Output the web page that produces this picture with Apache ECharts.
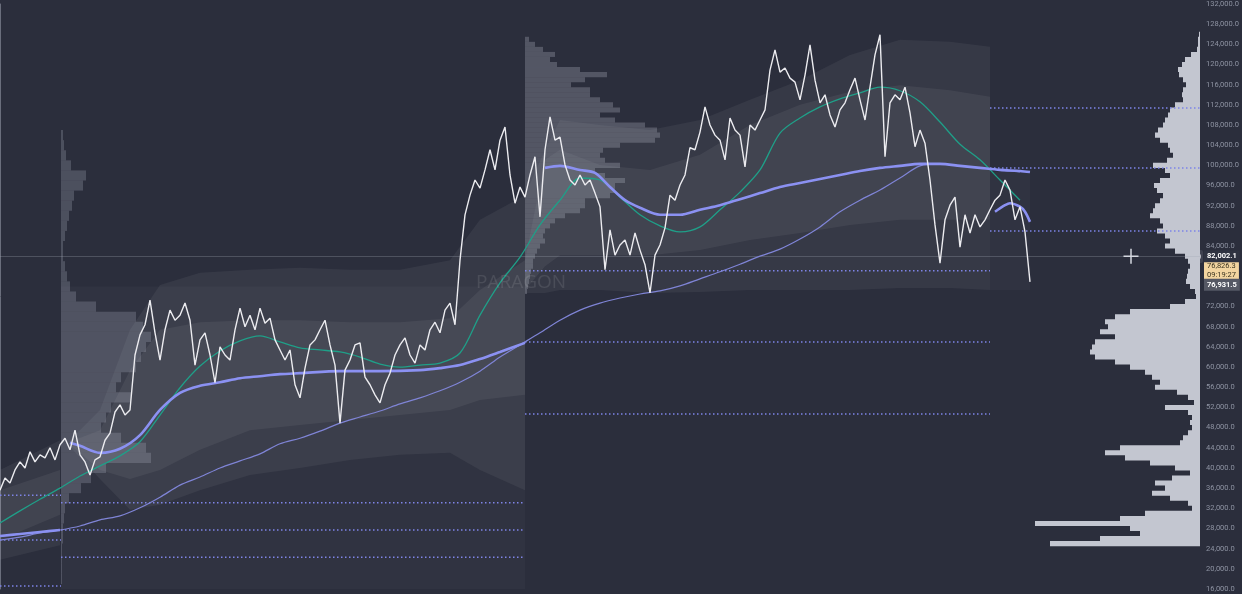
<!DOCTYPE html>
<html>
<head>
<meta charset="utf-8">
<script src="https://cdn.jsdelivr.net/npm/echarts@6/dist/echarts.min.js"></script>
<style>
html,body{margin:0;padding:0;background:#2b2e3c;}
#chart{width:1242px;height:594px;}
</style>
</head>
<body>
<div id="chart"></div>
<script>
// ---------- DATA ----------
// y axis ticks
const yMin = 16000, yMax = 132000, yStep = 4000;
// x axis: bar index (0 .. 240)
const xBars = 240;

// price path, one value per bar starting at bar 0
const price = [
 35600,38000,37000,39600,41200,40000,43200,41200,42600,42000,
 44000,41600,44600,45900,43600,47500,42600,41200,38600,41600,
 42200,45500,46900,51100,52500,50500,51500,62400,66400,68400,
 73300,66800,61400,67400,71300,69300,70300,72700,69300,60400,
 65400,66800,62400,56900,64000,62400,61400,67400,71700,68000,
 70300,67400,71700,68700,69700,65400,63400,61400,63400,56500,
 53900,59800,64400,65400,67400,69300,64400,60400,48900,59400,
 61400,64400,64800,58000,56500,54500,52900,56500,58800,62400,
 64400,65800,62400,60800,64400,63400,67400,68900,66800,71300,
 72700,68400,81200,90200,94100,97100,95500,99100,103100,99100,
 105000,107600,98100,92500,95700,93700,98100,101700,89800,103100,
 109600,105000,105600,100100,97100,96100,98100,96100,97100,94500,
 91800,79300,87200,82200,84200,85200,82200,86600,83200,80300,
 74700,82200,84200,87600,94100,93100,96100,98100,103500,103100,
 106600,111600,108000,106000,105000,101100,109400,107000,106000,99700,
 108000,107000,109000,111000,118900,122900,118500,119300,117300,116500,
 113000,117900,123900,116900,112400,114000,110000,107600,111000,112400,
 115000,117300,113000,109000,115500,121900,125900,101700,112400,114000,
 113000,115500,110400,103700,107000,104400,97100,88200,80600,89200,
 92100,93700,83800,90200,86600,90200,87800,89200,91200,93100,
 94100,97100,95100,89200,91800,86800,76900
];

// moving averages, one value every maStep bars from bar 0
const maStep = 4;
const maFast = [
 29100,31500,33800,36000,38400,40400,42400,45200,50500,55900,
 60200,63200,65200,66200,65000,63800,63400,63000,62000,60600,
 60000,60400,60800,62800,70300,76700,81800,88200,93100,97500,
 97100,93700,90200,88000,86800,87800,91200,94700,99100,106400,
 109400,111600,113200,114400,115500,114800,112600,108600,104200,101100,
 97100,93100
];
const maSlow = [
 25700,26300,27100,27700,28500,29700,30500,32100,34200,36600,
 38200,40000,41400,42800,44800,45900,47300,48900,50100,51300,
 52700,53900,55300,57000,59200,62000,64400,66800,69300,71300,
 72700,73700,74500,75100,76100,77500,78900,80400,82000,83400,
 85400,87800,90800,93100,95100,97500,99900,100300,99900,99500,
 99100,98700
];

// anchored VWAP segments [bar, price]
const vwapA = [[0,26500],[4,26900],[8,27300],[12,27700]];
const vwapB = [[14,45000],[16,44400],[20,43000],[24,43800],[28,46500],[32,51500],[36,54900],[40,56300],[44,57000],[48,57800],[52,58200],[56,58600],[60,58800],[68,59200],[76,59200],[84,59400],[88,59800],[92,60400],[96,61600],[100,63000],[105,64800]];
const vwapC = [[109,99500],[112,99900],[116,99100],[119,98500],[122,95700],[125,93100],[128,91600],[132,90200],[136,90200],[140,91200],[144,92100],[148,93300],[152,94500],[156,95700],[160,96500],[164,97300],[168,98100],[172,98900],[176,99500],[180,99900],[184,100300],[188,100300],[192,99900],[196,99500],[200,99100],[204,98900],[206,98700]];
const vwapD = [[199,90800],[201,92100],[202,92500],[204,91800],[205,90800],[206,88800]];

// deviation bands of the anchored VWAPs
const bandAx  = [0, 12];
const bandAu2 = [39600, 45500];
const bandAu1 = [35600, 39600];
const bandAl1 = [25700, 30700];
const bandAl2 = [21800, 24700];

const bandBx  = [14, 20, 26, 32, 40, 50, 60, 70, 80, 90, 96, 105];
const bandBu2 = [45500,51500,67400,76300,78700,79300,79700,79300,79300,81200,89200,94100];
const bandBu1 = [45200,47500,59400,67400,68900,69300,69300,68900,68900,69700,75300,81200];
const bandBl1 = [44600,39600,37800,39600,43600,47500,48500,49500,50500,51500,53500,54500];
const bandBl2 = [44200,37800,31700,32700,35600,38600,40000,41600,42600,43000,39600,35600];

const bandCx  = [105, 109, 112, 120, 130, 140, 150, 160, 170, 180, 190, 198];
const bandCu2 = [94100,103100,109000,108000,107000,109000,113000,116900,121900,124900,124500,123500];
const bandCu1 = [81200,101100,103100,100100,99100,102100,108000,112000,114600,115900,114900,113600];
const bandCl1 = [75300,80000,82200,82200,82200,83200,85200,86600,88200,89200,89200,89200];
const bandCl2 = [74700,74700,75300,75300,74700,74900,75300,75300,75300,75700,75700,75300];

// session boxes [fromBar, toBar, topPrice, bottomPrice]
const boxes = [[12.2, 105, 76000, 16000], [198, 206, 98700, 75300]];

// volume profiles: anchor bar, top bucket, bucket size, volumes
const profLeftAnchor = 12.2, profLeftTop = 106000, profLeftStep = 2000;
const profLeftVol = [2,3,5,10,25,22,13,11,8,6, 4,2,2,4,6,9,15,35,75,82,
 90,85,80,75,60,55,70,50,45,40, 60,85,90,45,30,20,8,4,3,2, 2,1,1,1,1];
const profMidAnchor = 105, profMidTop = 126000, profMidStep = 1000;
const profMidVol = [0,4,10,18,30,25,32,55,82,60, 46,65,65,75,88,95,75,90,120,132,
 135,130,95,78,75,80,95,70,80,100, 90,90,85,60,60,55,40,30,25,20,
 18,20,15,12,10,8,8,6,5,4, 3,2];
const profRightAnchor = 240, profRightTop = 126000, profRightStep = 1000;
const profRightVol = [1,2,2,3,9,15,18,22,21,17, 14,17,18,17,25,30,32,35,37,42,
 45,40,32,30,27,33,47,35,30,40, 46,43,37,40,45,47,50,40,37,43,
 35,30,35,25,15,12,10,12,13,14, 10,5,4,15,30,70,85,95,92,100,
 85,105,108,110,105,85,70,55,48,40, 45,23,12,6,35,12,8,10,8,12,
 17,20,80,95,75,50,25,10,28,45, 35,48,30,12,8,55,80,165,70,60,
 100,150];

// value-area / POC level lines
const levelFrom  = [0,0,0, 12.2,12.2,12.2, 105,105,105, 198,198,198];
const levelTo    = [12.2,12.2,12.2, 105,105,105, 198,198,198, 240,240,240];
const levelPrice = [34600,25700,16600, 33100,27700,22300, 79100,65000,50700, 111400,99500,87000];

// price tags on the axis
const crossPrice = 82002.1;
const lastPrice = 76931.5;
const timerPrice = 79100;
const timerText = ['76,826.3', '09:19:27'];
const cursorAt = [226.2, 82002.1];

// ---------- BUILD ----------
const VOL_TO_BARS = 0.2;
const fmt = v => v.toLocaleString('en-US', {minimumFractionDigits: 1, maximumFractionDigits: 1});

function bandSeries(xs, up, lo, fill, z) {
  return {
    type: 'custom', coordinateSystem: 'cartesian2d', silent: true, z: z,
    data: [[xs[0], up[0]]],
    renderItem: function (params, api) {
      const pts = [];
      for (let i = 0; i < xs.length; i++) pts.push(api.coord([xs[i], up[i]]));
      for (let i = xs.length - 1; i >= 0; i--) pts.push(api.coord([xs[i], lo[i]]));
      return {type: 'polygon', shape: {points: pts}, style: {fill: fill}};
    }
  };
}
function profileData(anchor, top, step, vols, dir) {
  return vols.map((v, i) => [anchor, top - i * step - step / 2, top - i * step + step / 2, v * VOL_TO_BARS, dir]);
}
function rectSeries(data, fill, z) {
  return {
    type: 'custom', coordinateSystem: 'cartesian2d', silent: true, z: z,
    encode: {x: [0], y: [1, 2]},
    data: data,
    renderItem: function (params, api) {
      const a = api.value(0), lo = api.value(1), hi = api.value(2), w = api.value(3), d = api.value(4);
      const p1 = api.coord([a, hi]), p2 = api.coord([a + d * w, lo]);
      return {type: 'rect', shape: {x: Math.min(p1[0], p2[0]), y: p1[1], width: Math.abs(p2[0] - p1[0]), height: p2[1] - p1[1]}, style: {fill: fill}};
    }
  };
}
// step-shaped profile as one polygon (no seams)
function profilePolySeries(anchor, top, step, vols, dir, fill, z) {
  return {
    type: 'custom', coordinateSystem: 'cartesian2d', silent: true, z: z,
    data: [[anchor, top]],
    renderItem: function (params, api) {
      const pts = [api.coord([anchor, top + step / 2])];
      vols.forEach((v, i) => {
        const hi = top - i * step + step / 2, lo = top - i * step - step / 2;
        const x = anchor + dir * v * VOL_TO_BARS;
        pts.push(api.coord([x, hi]));
        pts.push(api.coord([x, lo]));
      });
      pts.push(api.coord([anchor, top - (vols.length - 1) * step - step / 2]));
      return {type: 'polygon', shape: {points: pts}, style: {fill: fill}};
    }
  };
}
function lineSeries(data, color, width, z, smooth) {
  return {type: 'line', data: data, showSymbol: false, symbol: 'none', silent: true, z: z,
    smooth: smooth || false, lineStyle: {color: color, width: width}};
}

const series = [];
// boxes
series.push(rectSeries(boxes.map(b => [b[0], b[3], b[2], b[1] - b[0], 1]), 'rgba(255,255,255,0.028)', 1));
// bands
const bandOuter = 'rgba(255,255,255,0.055)', bandInner = 'rgba(255,255,255,0.06)';
series.push(bandSeries(bandAx, bandAu2, bandAl2, bandOuter, 2));
series.push(bandSeries(bandAx, bandAu1, bandAl1, bandInner, 2));
series.push(bandSeries(bandBx, bandBu2, bandBl2, bandOuter, 2));
series.push(bandSeries(bandBx, bandBu1, bandBl1, bandInner, 2));
series.push(bandSeries(bandCx, bandCu2, bandCl2, bandOuter, 2));
series.push(bandSeries(bandCx, bandCu1, bandCl1, bandInner, 2));
// profiles
series.push(rectSeries(profileData(profLeftAnchor, profLeftTop, profLeftStep, profLeftVol, 1), 'rgba(185,190,205,0.24)', 3));
series.push(rectSeries(profileData(profMidAnchor, profMidTop, profMidStep, profMidVol, 1), 'rgba(185,190,205,0.28)', 3));
series.push(profilePolySeries(profRightAnchor, profRightTop, profRightStep, profRightVol, -1, '#c3c6d0', 3));
// level lines
for (let i = 0; i < levelPrice.length; i++) {
  series.push({type: 'line', data: [[levelFrom[i], levelPrice[i]], [levelTo[i], levelPrice[i]]],
    showSymbol: false, symbol: 'none', silent: true, z: 4,
    lineStyle: {color: '#7e84e6', width: 1.5, type: [1.5, 2.5]}});
}
// moving averages & vwaps
series.push(lineSeries(maSlow.map((v, i) => [i * maStep, v]), '#7f84d6', 1.2, 5, 0.3));
series.push(lineSeries(maFast.map((v, i) => [i * maStep, v]), '#1f9f88', 1.3, 5, 0.3));
[vwapA, vwapB, vwapC, vwapD].forEach(s => series.push(lineSeries(s, '#8b91f2', 2.6, 6, 0.3)));
// price
const priceSeries = lineSeries(price.map((v, i) => [i, v]), '#ececf0', 1.4, 7, false);
const noLine = {color: 'rgba(0,0,0,0)', width: 0};
priceSeries.markLine = {
  silent: true, symbol: ['none', 'none'], animation: false,
  data: [
    {yAxis: timerPrice, lineStyle: noLine,
      label: {show: true, position: 'end', distance: 4, formatter: timerText.join('\n'), backgroundColor: '#f3d5a0',
        color: '#3b3420', fontSize: 7.5, lineHeight: 9, padding: [1, 3, 1, 3], fontFamily: 'Roboto'}},
    {yAxis: crossPrice, lineStyle: {color: 'rgba(160,165,180,0.30)', width: 1, type: 'solid'},
      label: {show: true, position: 'end', distance: 4, formatter: fmt(crossPrice), backgroundColor: '#2f3341',
        color: '#ffffff', fontWeight: 'bold', fontSize: 7.5, padding: [2, 3], fontFamily: 'Roboto'}},
    {yAxis: lastPrice, lineStyle: noLine,
      label: {show: true, position: 'end', distance: 4, offset: [0, 3], formatter: fmt(lastPrice), backgroundColor: '#555864',
        color: '#ffffff', fontWeight: 'bold', fontSize: 7.5, padding: [2, 3], fontFamily: 'Roboto'}}
  ]
};
priceSeries.markPoint = {
  silent: true, animation: false,
  data: [{coord: cursorAt, symbol: 'path://M4.5,0h1v10h-1z M0,4.5h10v1h-10z', symbolSize: 15,
    itemStyle: {color: '#d5d8e0'}, label: {show: false}}]
};
series.push(priceSeries);

const chart = echarts.init(document.getElementById('chart'), null, {renderer: 'canvas'});
chart.setOption({
  backgroundColor: '#2b2e3c',
  animation: false,
  grid: {left: 0, right: 42, top: 4, bottom: 5, containLabel: false},
  xAxis: {type: 'value', min: 0, max: xBars, show: false},
  yAxis: {
    type: 'value', position: 'right', min: yMin, max: yMax, interval: yStep,
    axisLine: {show: true, lineStyle: {color: '#6a6e7c', width: 1}},
    axisTick: {show: false}, splitLine: {show: false},
    axisLabel: {color: '#8e93a2', fontSize: 7.5, margin: 6, fontFamily: 'Roboto', formatter: v => fmt(v)}
  },
  graphic: [
    {type: 'text', left: 476, top: 273, z: 10,
      style: {text: 'PARAGON', fill: 'rgba(255,255,255,0.10)', font: '19px "Open Sans"'}},
    {type: 'group', left: 1190, top: 250, z: 20, children: [
      {type: 'rect', shape: {x: 0, y: 0, width: 13, height: 13, r: 2}, style: {fill: '#3f4250'}},
      {type: 'circle', shape: {cx: 6.5, cy: 6.5, r: 4}, style: {fill: 'none', stroke: '#e0e2e8', lineWidth: 1}},
      {type: 'text', style: {text: '+', x: 6.5, y: 6.7, fill: '#e0e2e8', font: '8px sans-serif', align: 'center', verticalAlign: 'middle'}}
    ]}
  ],
  series: series
});
</script>
</body>
</html>
